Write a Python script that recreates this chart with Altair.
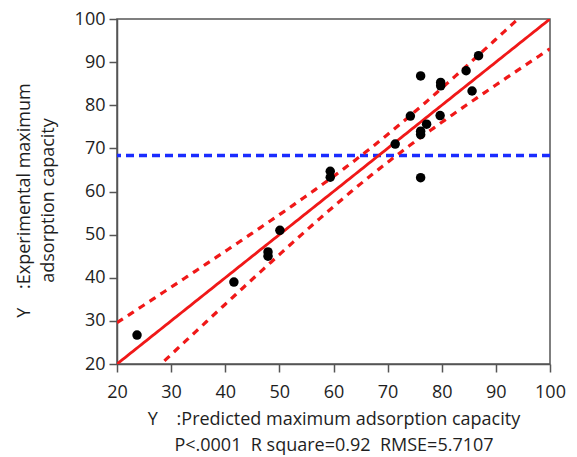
import altair as alt
import numpy as np
import pandas as pd

# Predicted vs. experimental maximum adsorption capacity
predicted = [23.7, 41.6, 47.9, 47.9, 50.1, 59.4, 59.4, 71.4, 74.2, 76.1,
             76.1, 76.1, 77.2, 79.7, 79.8, 79.8, 84.5, 85.6, 86.8, 76.1]
experimental = [26.7, 39.0, 46.0, 45.0, 51.0, 64.7, 63.3, 71.0, 77.5, 86.8,
                74.0, 73.2, 75.6, 77.6, 85.3, 84.5, 88.0, 83.3, 91.5, 63.2]

rmse = 5.7107
t_crit = 2.5
axis_ticks = [20, 30, 40, 50, 60, 70, 80, 90, 100]
stats_label = "P<.0001\u00a0\u00a0R square=0.92\u00a0\u00a0RMSE=5.7107"

pts = pd.DataFrame({"pred": predicted, "exp": experimental})

# fit line (actual = predicted) with confidence curves for the mean
x = np.array(predicted)
n = len(x)
xbar = x.mean()
sxx = ((x - xbar) ** 2).sum()
grid = np.linspace(20, 100, 161)
half = t_crit * rmse * np.sqrt(1.0 / n + (grid - xbar) ** 2 / sxx)
fit = pd.DataFrame({"pred": grid, "fit": grid, "upper": grid + half, "lower": grid - half})
mean_y = float(np.mean(experimental))

font = "Open Sans"
txt = "#1e1e1e"
xscale = alt.Scale(domain=[20, 100], nice=False, zero=False)
yscale = alt.Scale(domain=[20, 100], nice=False, zero=False)

xaxis = alt.Axis(values=axis_ticks, title=["Y\u00a0\u00a0\u00a0\u00a0:Predicted maximum adsorption capacity", stats_label],
                 titleFontSize=18, titleFontWeight="normal", titleFont=font, titleLineHeight=26,
                 titlePadding=9, labelFontSize=18, labelFont=font, labelPadding=11, labelFlush=False,
                 tickSize=8, grid=False, domainColor="#555", tickColor="#555", domainWidth=1.5,
                 tickWidth=1.5, labelColor=txt, titleColor=txt)
yaxis = alt.Axis(values=axis_ticks, title=["Y\u00a0\u00a0\u00a0\u00a0:Experimental maximum", "adsorption capacity"],
                 titleFontSize=18, titleFontWeight="normal", titleFont=font, titleLineHeight=24,
                 titleX=-88, titleY=181, titleAngle=-90, titleAlign="center", titleBaseline="alphabetic",
                 labelFontSize=18, labelFont=font, labelPadding=4, labelFlush=False,
                 tickSize=8, grid=False, domainColor="#555", tickColor="#555", domainWidth=1.5,
                 tickWidth=1.5, labelColor=txt, titleColor=txt)

base = alt.Chart(fit)

mean_rule = alt.Chart(pd.DataFrame({"m": [mean_y]})).mark_rule(
    color="#1a2cff", strokeWidth=3.5, strokeDash=[8, 5]
).encode(y=alt.Y("m:Q", scale=yscale, axis=yaxis))

upper = base.mark_line(color="#f01818", strokeWidth=3.2, strokeDash=[7, 6], clip=True).encode(
    x=alt.X("pred:Q", scale=xscale, axis=xaxis), y=alt.Y("upper:Q", scale=yscale, axis=yaxis))
lower = base.mark_line(color="#f01818", strokeWidth=3.2, strokeDash=[7, 6], clip=True).encode(
    x=alt.X("pred:Q", scale=xscale, axis=xaxis), y=alt.Y("lower:Q", scale=yscale, axis=yaxis))
line = base.mark_line(color="#f01818", strokeWidth=2.8, clip=True).encode(
    x=alt.X("pred:Q", scale=xscale, axis=xaxis), y=alt.Y("fit:Q", scale=yscale, axis=yaxis))

points = alt.Chart(pts).mark_circle(color="black", size=90, opacity=1).encode(
    x=alt.X("pred:Q", scale=xscale, axis=xaxis), y=alt.Y("exp:Q", scale=yscale, axis=yaxis))

chart = alt.layer(mean_rule, upper, lower, line, points).properties(
    width=433, height=345,
    autosize=alt.AutoSizeParams(type="none"),
    padding={"left": 117, "top": 19, "right": 27, "bottom": 93},
    background="white",
).configure_view(stroke="#555", strokeWidth=1.5)

chart.save("out.html", embed_options={"renderer": "svg", "actions": False})
